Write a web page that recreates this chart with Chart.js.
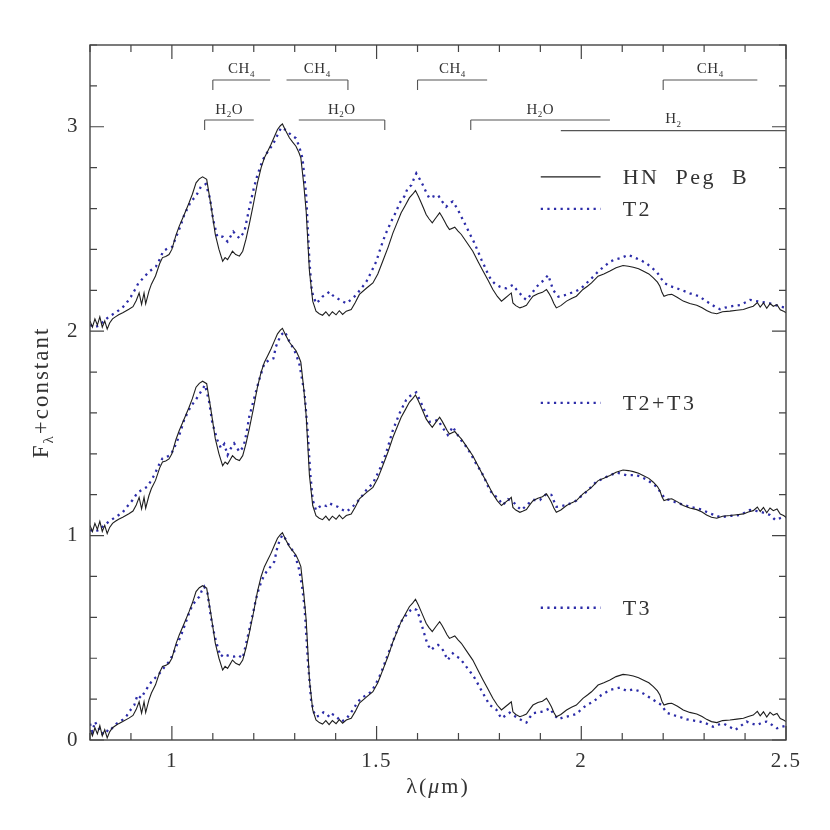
<!DOCTYPE html>
<html><head><meta charset="utf-8">
<script src="https://cdn.jsdelivr.net/npm/chart.js@4.4.1/dist/chart.umd.min.js"></script>
<style>html,body{margin:0;padding:0;background:#fff}#wrap{width:830px;height:830px}</style>
</head><body><div id="wrap"><canvas id="c" width="830" height="830"></canvas></div>
<script>
// ---- data (wavelength in micron, flux without offset) ----
const hnPegB = [[0.800,0.05],[0.806,0.02],[0.812,0.06],[0.818,0.03],[0.824,0.07],[0.830,0.02],[0.836,0.05],[0.842,0.01],[0.848,0.04],[0.855,0.06],[0.862,0.07],[0.870,0.08],[0.880,0.09],[0.895,0.107],[0.905,0.12],[0.913,0.15],[0.920,0.187],[0.926,0.131],[0.932,0.187],[0.936,0.134],[0.944,0.196],[0.950,0.23],[0.960,0.27],[0.970,0.33],[0.977,0.36],[0.985,0.365],[0.993,0.375],[1.000,0.40],[1.010,0.47],[1.018,0.514],[1.030,0.57],[1.042,0.628],[1.050,0.67],[1.059,0.726],[1.067,0.745],[1.075,0.755],[1.085,0.743],[1.095,0.62],[1.106,0.474],[1.115,0.40],[1.124,0.342],[1.130,0.36],[1.136,0.35],[1.142,0.37],[1.148,0.391],[1.156,0.375],[1.165,0.367],[1.173,0.391],[1.181,0.45],[1.189,0.522],[1.199,0.62],[1.209,0.726],[1.218,0.80],[1.226,0.848],[1.234,0.88],[1.242,0.913],[1.250,0.95],[1.258,0.987],[1.265,1.005],[1.270,1.014],[1.278,0.98],[1.287,0.946],[1.295,0.925],[1.303,0.905],[1.310,0.875],[1.315,0.848],[1.322,0.72],[1.328,0.587],[1.332,0.44],[1.336,0.294],[1.344,0.147],[1.352,0.098],[1.360,0.085],[1.368,0.078],[1.376,0.095],[1.384,0.075],[1.392,0.095],[1.401,0.08],[1.409,0.10],[1.417,0.082],[1.426,0.098],[1.438,0.106],[1.448,0.14],[1.458,0.18],[1.475,0.21],[1.491,0.236],[1.503,0.28],[1.515,0.342],[1.528,0.41],[1.540,0.481],[1.550,0.53],[1.560,0.579],[1.570,0.615],[1.580,0.652],[1.588,0.67],[1.595,0.688],[1.602,0.66],[1.609,0.628],[1.615,0.60],[1.621,0.571],[1.628,0.55],[1.636,0.53],[1.645,0.555],[1.654,0.579],[1.660,0.56],[1.666,0.538],[1.672,0.515],[1.678,0.497],[1.691,0.509],[1.699,0.49],[1.707,0.473],[1.720,0.435],[1.735,0.391],[1.748,0.34],[1.760,0.294],[1.772,0.25],[1.784,0.204],[1.795,0.17],[1.805,0.147],[1.813,0.16],[1.822,0.175],[1.829,0.187],[1.833,0.138],[1.840,0.125],[1.850,0.114],[1.858,0.12],[1.866,0.127],[1.874,0.15],[1.882,0.171],[1.894,0.183],[1.905,0.19],[1.915,0.204],[1.921,0.185],[1.927,0.163],[1.933,0.135],[1.939,0.114],[1.950,0.125],[1.964,0.147],[1.976,0.16],[1.988,0.171],[2.004,0.204],[2.015,0.22],[2.025,0.236],[2.041,0.269],[2.055,0.28],[2.070,0.294],[2.085,0.31],[2.102,0.321],[2.115,0.318],[2.127,0.313],[2.140,0.305],[2.151,0.294],[2.165,0.28],[2.176,0.261],[2.186,0.24],[2.192,0.22],[2.197,0.19],[2.202,0.171],[2.212,0.178],[2.221,0.18],[2.235,0.165],[2.249,0.147],[2.265,0.135],[2.282,0.127],[2.295,0.115],[2.306,0.101],[2.318,0.09],[2.331,0.085],[2.345,0.095],[2.363,0.098],[2.380,0.102],[2.396,0.106],[2.408,0.115],[2.420,0.122],[2.430,0.14],[2.437,0.118],[2.445,0.138],[2.453,0.112],[2.461,0.135],[2.469,0.122],[2.478,0.13],[2.486,0.105],[2.494,0.098],[2.500,0.09]];

const t2 = [[0.800,0.03],[0.811,0.02],[0.822,0.027],[0.834,0.05],[0.846,0.071],[0.862,0.09],[0.879,0.115],[0.890,0.14],[0.900,0.169],[0.909,0.2],[0.918,0.234],[0.930,0.26],[0.944,0.291],[0.961,0.316],[0.970,0.35],[0.979,0.392],[0.990,0.405],[1.001,0.413],[1.014,0.479],[1.022,0.52],[1.030,0.568],[1.038,0.60],[1.046,0.634],[1.058,0.658],[1.071,0.707],[1.083,0.72],[1.093,0.65],[1.101,0.544],[1.111,0.462],[1.124,0.462],[1.136,0.438],[1.150,0.487],[1.165,0.454],[1.177,0.487],[1.189,0.601],[1.201,0.707],[1.209,0.764],[1.222,0.838],[1.234,0.878],[1.246,0.911],[1.258,0.96],[1.267,0.996],[1.279,0.984],[1.291,0.96],[1.303,0.944],[1.311,0.903],[1.319,0.846],[1.328,0.666],[1.336,0.34],[1.342,0.193],[1.352,0.136],[1.360,0.15],[1.368,0.169],[1.377,0.18],[1.385,0.193],[1.393,0.175],[1.401,0.164],[1.413,0.15],[1.426,0.136],[1.438,0.155],[1.450,0.177],[1.463,0.21],[1.475,0.242],[1.487,0.29],[1.499,0.34],[1.507,0.39],[1.515,0.438],[1.523,0.48],[1.532,0.52],[1.540,0.555],[1.548,0.585],[1.556,0.626],[1.568,0.66],[1.576,0.70],[1.585,0.715],[1.591,0.745],[1.597,0.772],[1.605,0.745],[1.613,0.715],[1.621,0.68],[1.629,0.65],[1.640,0.66],[1.650,0.666],[1.660,0.635],[1.670,0.609],[1.678,0.625],[1.686,0.634],[1.697,0.60],[1.707,0.56],[1.717,0.52],[1.727,0.479],[1.738,0.435],[1.748,0.389],[1.756,0.35],[1.764,0.316],[1.772,0.28],[1.780,0.25],[1.790,0.23],[1.801,0.218],[1.809,0.212],[1.817,0.21],[1.825,0.218],[1.833,0.226],[1.841,0.205],[1.850,0.185],[1.858,0.165],[1.866,0.153],[1.874,0.172],[1.882,0.193],[1.890,0.215],[1.899,0.234],[1.909,0.25],[1.919,0.275],[1.925,0.24],[1.931,0.202],[1.944,0.169],[1.958,0.175],[1.972,0.185],[1.986,0.195],[2.000,0.21],[2.010,0.23],[2.021,0.25],[2.033,0.275],[2.045,0.299],[2.058,0.32],[2.070,0.34],[2.082,0.35],[2.094,0.356],[2.105,0.365],[2.115,0.373],[2.125,0.365],[2.135,0.356],[2.147,0.345],[2.159,0.332],[2.172,0.31],[2.184,0.291],[2.194,0.26],[2.204,0.234],[2.218,0.22],[2.233,0.21],[2.249,0.198],[2.265,0.185],[2.278,0.177],[2.290,0.169],[2.302,0.15],[2.314,0.136],[2.326,0.12],[2.339,0.107],[2.351,0.115],[2.363,0.12],[2.376,0.125],[2.388,0.128],[2.400,0.14],[2.412,0.153],[2.425,0.148],[2.437,0.144],[2.449,0.14],[2.461,0.136],[2.474,0.128],[2.486,0.12],[2.500,0.115]];

const t2t3 = [[0.800,0.027],[0.811,0.02],[0.822,0.027],[0.834,0.05],[0.846,0.068],[0.862,0.09],[0.879,0.112],[0.890,0.14],[0.904,0.174],[0.916,0.21],[0.928,0.225],[0.940,0.239],[0.948,0.265],[0.957,0.296],[0.967,0.34],[0.977,0.378],[0.987,0.385],[0.997,0.394],[1.006,0.43],[1.014,0.468],[1.022,0.515],[1.030,0.566],[1.038,0.60],[1.046,0.631],[1.058,0.663],[1.071,0.704],[1.081,0.737],[1.091,0.655],[1.099,0.549],[1.111,0.468],[1.120,0.427],[1.128,0.448],[1.136,0.394],[1.144,0.427],[1.152,0.451],[1.165,0.41],[1.175,0.435],[1.182,0.50],[1.189,0.582],[1.201,0.672],[1.213,0.761],[1.226,0.843],[1.238,0.859],[1.248,0.867],[1.254,0.924],[1.266,0.981],[1.276,0.998],[1.287,0.949],[1.299,0.908],[1.311,0.843],[1.324,0.696],[1.332,0.5],[1.338,0.305],[1.344,0.174],[1.352,0.125],[1.360,0.14],[1.368,0.15],[1.377,0.145],[1.385,0.158],[1.395,0.148],[1.405,0.141],[1.415,0.128],[1.426,0.117],[1.438,0.135],[1.450,0.158],[1.463,0.19],[1.475,0.223],[1.491,0.256],[1.507,0.321],[1.523,0.403],[1.540,0.517],[1.556,0.598],[1.572,0.663],[1.580,0.68],[1.589,0.693],[1.597,0.701],[1.605,0.665],[1.613,0.631],[1.621,0.595],[1.629,0.557],[1.640,0.56],[1.650,0.566],[1.656,0.545],[1.662,0.525],[1.668,0.51],[1.674,0.492],[1.680,0.51],[1.686,0.533],[1.694,0.505],[1.703,0.476],[1.711,0.455],[1.719,0.435],[1.730,0.40],[1.740,0.362],[1.750,0.33],[1.760,0.296],[1.768,0.26],[1.776,0.223],[1.786,0.20],[1.797,0.182],[1.803,0.165],[1.809,0.15],[1.815,0.165],[1.821,0.178],[1.829,0.168],[1.837,0.158],[1.845,0.14],[1.854,0.125],[1.862,0.14],[1.870,0.155],[1.882,0.174],[1.899,0.174],[1.907,0.19],[1.915,0.204],[1.927,0.199],[1.933,0.17],[1.939,0.141],[1.952,0.145],[1.964,0.15],[1.976,0.16],[1.988,0.171],[2.000,0.193],[2.013,0.215],[2.025,0.24],[2.037,0.264],[2.050,0.276],[2.062,0.288],[2.074,0.298],[2.086,0.308],[2.098,0.302],[2.110,0.296],[2.122,0.296],[2.135,0.296],[2.147,0.286],[2.159,0.275],[2.172,0.257],[2.184,0.239],[2.194,0.21],[2.204,0.182],[2.218,0.172],[2.233,0.161],[2.249,0.151],[2.265,0.141],[2.278,0.135],[2.290,0.129],[2.302,0.119],[2.314,0.109],[2.326,0.10],[2.339,0.09],[2.351,0.093],[2.363,0.096],[2.376,0.098],[2.388,0.101],[2.400,0.113],[2.412,0.125],[2.425,0.121],[2.437,0.117],[2.449,0.109],[2.461,0.101],[2.474,0.076],[2.485,0.085],[2.494,0.092],[2.500,0.09]];

const t3 = [[0.800,0.08],[0.806,0.04],[0.812,0.09],[0.820,0.06],[0.830,0.03],[0.838,0.05],[0.846,0.04],[0.855,0.06],[0.865,0.08],[0.879,0.098],[0.890,0.12],[0.900,0.15],[0.908,0.17],[0.916,0.22],[0.925,0.205],[0.935,0.24],[0.945,0.27],[0.953,0.294],[0.963,0.31],[0.973,0.334],[0.983,0.36],[0.993,0.383],[1.003,0.42],[1.014,0.473],[1.022,0.51],[1.030,0.554],[1.040,0.61],[1.050,0.66],[1.058,0.68],[1.067,0.701],[1.073,0.73],[1.079,0.75],[1.087,0.718],[1.095,0.603],[1.101,0.54],[1.107,0.489],[1.114,0.44],[1.120,0.408],[1.126,0.42],[1.132,0.416],[1.142,0.41],[1.152,0.408],[1.162,0.415],[1.173,0.40],[1.181,0.47],[1.189,0.538],[1.197,0.61],[1.205,0.685],[1.213,0.745],[1.222,0.791],[1.230,0.82],[1.238,0.84],[1.250,0.872],[1.258,0.946],[1.264,0.98],[1.270,1.003],[1.277,0.985],[1.283,0.962],[1.291,0.94],[1.299,0.913],[1.305,0.875],[1.311,0.832],[1.318,0.75],[1.324,0.652],[1.332,0.391],[1.340,0.196],[1.346,0.14],[1.352,0.114],[1.362,0.12],[1.370,0.135],[1.377,0.131],[1.386,0.11],[1.393,0.125],[1.401,0.117],[1.413,0.09],[1.425,0.10],[1.442,0.147],[1.452,0.18],[1.462,0.204],[1.475,0.22],[1.487,0.236],[1.497,0.27],[1.507,0.31],[1.517,0.36],[1.527,0.416],[1.536,0.46],[1.544,0.505],[1.552,0.545],[1.560,0.579],[1.568,0.60],[1.576,0.62],[1.583,0.635],[1.589,0.644],[1.598,0.636],[1.604,0.605],[1.609,0.571],[1.615,0.53],[1.621,0.489],[1.627,0.46],[1.633,0.44],[1.641,0.455],[1.650,0.465],[1.656,0.455],[1.662,0.44],[1.668,0.415],[1.674,0.391],[1.680,0.41],[1.686,0.424],[1.694,0.41],[1.703,0.40],[1.711,0.38],[1.719,0.359],[1.730,0.33],[1.740,0.302],[1.750,0.265],[1.760,0.228],[1.768,0.2],[1.776,0.171],[1.785,0.16],[1.793,0.147],[1.799,0.125],[1.805,0.106],[1.815,0.12],[1.825,0.134],[1.835,0.12],[1.846,0.106],[1.856,0.095],[1.866,0.085],[1.874,0.11],[1.882,0.131],[1.893,0.135],[1.903,0.138],[1.913,0.145],[1.923,0.155],[1.933,0.125],[1.944,0.101],[1.955,0.11],[1.964,0.114],[1.976,0.12],[1.988,0.127],[2.000,0.15],[2.013,0.171],[2.029,0.187],[2.049,0.22],[2.070,0.245],[2.094,0.256],[2.111,0.241],[2.127,0.248],[2.140,0.24],[2.151,0.228],[2.165,0.21],[2.176,0.196],[2.196,0.171],[2.208,0.134],[2.220,0.125],[2.233,0.117],[2.245,0.11],[2.257,0.101],[2.275,0.095],[2.290,0.09],[2.306,0.08],[2.322,0.065],[2.335,0.075],[2.347,0.081],[2.362,0.065],[2.376,0.049],[2.390,0.07],[2.404,0.09],[2.416,0.08],[2.429,0.073],[2.441,0.085],[2.453,0.09],[2.465,0.075],[2.478,0.057],[2.490,0.065],[2.500,0.07]];

const templates = [t2, t2t3, t3];
const templateNames = ['T2', 'T2+T3', 'T3'];
const groupOffsets = [2, 1, 0];
const xTickLabels = [1, 1.5, 2, 2.5];
const yTickLabels = [0, 1, 2, 3];

// absorption band annotations
const bandMain = ['CH', 'CH', 'CH', 'CH', 'H', 'H', 'H', 'H'];
const bandSub  = ['4', '4', '4', '4', '2', '2', '2', '2'];
const bandTail = ['', '', '', '', 'O', 'O', 'O', ''];
const bandFrom = [1.10, 1.28, 1.60, 2.20, 1.08, 1.31, 1.73, 1.95];
const bandTo   = [1.24, 1.43, 1.77, 2.43, 1.20, 1.52, 2.07, 2.50];
const bandLeg  = ['left', 'right', 'left', 'left', 'left', 'right', 'left', 'none'];
const bandLine = [3.229, 3.229, 3.229, 3.229, 3.033, 3.033, 3.033, 2.981];
const bandLegEnd = [3.180, 3.180, 3.180, 3.180, 2.984, 2.984, 2.984, 2.981];
const bandText = [3.262, 3.262, 3.262, 3.262, 3.063, 3.063, 3.063, 3.016];

// legend placement (data units)
const legendLineX = [1.901, 2.047];
const legendTextX = 2.101;
const hnLegendY = 2.755;
const templateLegendY = [2.598, 1.649, 0.647];

const SERIF = '"Liberation Serif", "DejaVu Serif", serif';
const TEXT = '#333';
const AXIS = '#444';
const BLACK = '#1e1e1e';
const BLUE = '#2c2ca8';

const datasets = [];
templates.forEach((tp, g) => {
  datasets.push({
    label: 'HN Peg B', data: hnPegB.map(p => ({x: p[0], y: p[1] + groupOffsets[g]})),
    borderColor: BLACK, borderWidth: 1.1, pointRadius: 0, tension: 0, fill: false
  });
  datasets.push({
    label: templateNames[g], data: tp.map(p => ({x: p[0], y: p[1] + groupOffsets[g]})),
    borderColor: BLUE, borderWidth: 2.3, borderDash: [2.2, 4.4], borderCapStyle: 'butt',
    pointRadius: 0, tension: 0, fill: false
  });
});

function drawRich(ctx, parts, x, y, align) {
  let w = 0;
  for (const p of parts) { ctx.font = p.f; w += ctx.measureText(p.t).width; }
  let cx = align === 'center' ? x - w / 2 : (align === 'right' ? x - w : x);
  for (const p of parts) {
    ctx.font = p.f;
    ctx.fillText(p.t, cx, y + (p.dy || 0));
    cx += ctx.measureText(p.t).width;
  }
}

const decor = {
  id: 'decor',
  beforeDraw(chart) { chart.ctx.letterSpacing = '1.5px'; },
  afterDraw(chart) {
    const ctx = chart.ctx, xs = chart.scales.x, ys = chart.scales.y, a = chart.chartArea;
    ctx.save();
    ctx.strokeStyle = AXIS; ctx.lineWidth = 1.4; ctx.setLineDash([]);
    ctx.strokeRect(a.left, a.top, a.right - a.left, a.bottom - a.top);
    ctx.lineWidth = 1.2;
    ctx.beginPath();
    for (let k = 8; k <= 25; k++) {
      const px = xs.getPixelForValue(k / 10);
      const len = (k % 5 === 0) ? 14 : 7;
      ctx.moveTo(px, a.bottom); ctx.lineTo(px, a.bottom - len);
      ctx.moveTo(px, a.top); ctx.lineTo(px, a.top + len);
    }
    for (let k = 0; k <= 17; k++) {
      const py = ys.getPixelForValue(k * 0.2);
      const len = (k % 5 === 0) ? 14 : 7;
      ctx.moveTo(a.left, py); ctx.lineTo(a.left + len, py);
      ctx.moveTo(a.right, py); ctx.lineTo(a.right - len, py);
    }
    ctx.stroke();

    // band annotations
    ctx.strokeStyle = '#555'; ctx.lineWidth = 1.1;
    ctx.fillStyle = TEXT; ctx.textBaseline = 'alphabetic'; ctx.letterSpacing = '0.5px';
    for (let i = 0; i < bandMain.length; i++) {
      const x1 = xs.getPixelForValue(bandFrom[i]), x2 = xs.getPixelForValue(Math.min(bandTo[i], 2.5));
      const yl = ys.getPixelForValue(bandLine[i]), ye = ys.getPixelForValue(bandLegEnd[i]);
      ctx.beginPath();
      ctx.moveTo(x1, yl); ctx.lineTo(x2, yl);
      if (bandLeg[i] === 'left') { ctx.moveTo(x1, yl); ctx.lineTo(x1, ye); }
      if (bandLeg[i] === 'right') { ctx.moveTo(x2, yl); ctx.lineTo(x2, ye); }
      ctx.stroke();
      const parts = [{t: bandMain[i], f: '15px ' + SERIF}, {t: bandSub[i], f: '9px ' + SERIF, dy: 3.5}];
      if (bandTail[i]) parts.push({t: bandTail[i], f: '15px ' + SERIF});
      drawRich(ctx, parts, xs.getPixelForValue((bandFrom[i] + bandTo[i]) / 2), ys.getPixelForValue(bandText[i]), 'center');
    }

    // legends
    ctx.letterSpacing = '2.5px';
    const lx1 = xs.getPixelForValue(legendLineX[0]), lx2 = xs.getPixelForValue(legendLineX[1]);
    const tx = xs.getPixelForValue(legendTextX);
    const hy = ys.getPixelForValue(hnLegendY);
    ctx.setLineDash([]); ctx.strokeStyle = BLACK; ctx.lineWidth = 1.1;
    ctx.beginPath(); ctx.moveTo(lx1, hy); ctx.lineTo(lx2, hy); ctx.stroke();
    ctx.font = '22px ' + SERIF; ctx.fillStyle = TEXT;
    ctx.fillText('HN  Peg  B', tx, hy + 7.5);
    for (let g = 0; g < templateNames.length; g++) {
      const y = ys.getPixelForValue(templateLegendY[g]);
      ctx.strokeStyle = BLUE; ctx.lineWidth = 2.3; ctx.setLineDash([2.2, 4.4]); ctx.lineCap = 'butt';
      ctx.beginPath(); ctx.moveTo(lx1, y); ctx.lineTo(lx2, y); ctx.stroke();
      ctx.setLineDash([]);
      ctx.fillText(templateNames[g], tx, y + 7.5);
    }

    // axis titles
    ctx.letterSpacing = '2px';
    ctx.fillStyle = TEXT;
    ctx.save();
    ctx.translate(a.left - 50, (a.top + a.bottom) / 2);
    ctx.rotate(-Math.PI / 2);
    drawRich(ctx, [{t: 'F', f: '23px ' + SERIF}, {t: 'λ', f: '15px ' + SERIF, dy: 5}, {t: '+constant', f: '23px ' + SERIF}], 0, 8, 'center');
    ctx.restore();
    drawRich(ctx, [{t: 'λ(', f: '22px ' + SERIF}, {t: 'μ', f: 'italic 22px ' + SERIF}, {t: 'm)', f: '22px ' + SERIF}], (a.left + a.right) / 2, a.bottom + 53, 'center');
    ctx.restore();
  }
};

new Chart(document.getElementById('c'), {
  type: 'line',
  data: {datasets},
  options: {
    responsive: false, animation: false, devicePixelRatio: 1,
    layout: {padding: {top: 45, right: 44, left: 0, bottom: 0}},
    plugins: {legend: {display: false}, tooltip: {enabled: false}},
    scales: {
      x: {
        type: 'linear', min: 0.8, max: 2.5,
        grid: {display: false, drawTicks: false}, border: {display: false},
        ticks: {font: {family: SERIF, size: 21}, color: TEXT, padding: 9, maxRotation: 0,
                callback: v => String(v)},
        afterBuildTicks: s => { s.ticks = xTickLabels.map(v => ({value: v})); },
        afterFit: s => { s.height = 90; }
      },
      y: {
        type: 'linear', min: 0, max: 3.4,
        grid: {display: false, drawTicks: false}, border: {display: false},
        ticks: {font: {family: SERIF, size: 21}, color: TEXT, padding: 11,
                callback: v => String(v)},
        afterBuildTicks: s => { s.ticks = yTickLabels.map(v => ({value: v})); },
        afterFit: s => { s.width = 90; }
      }
    }
  },
  plugins: [decor]
});
</script>
</body></html>
